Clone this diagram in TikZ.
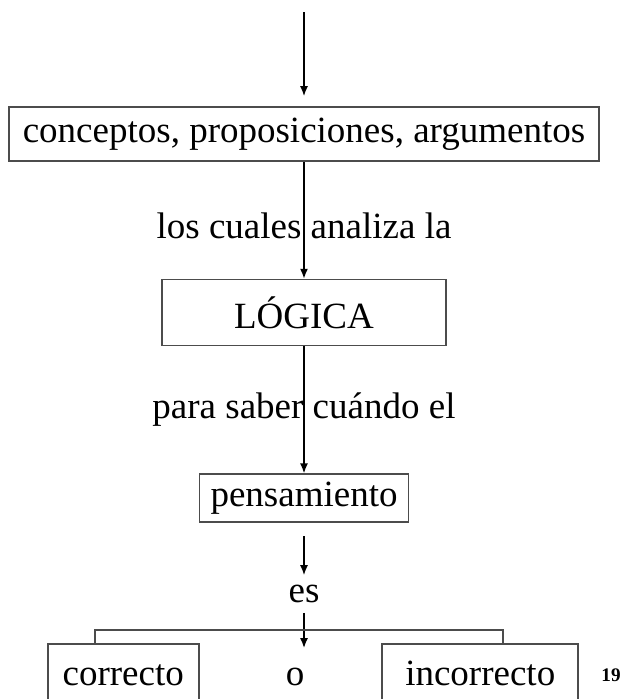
\documentclass[tikz,border=0pt]{standalone}
\usepackage{fontspec}
\setmainfont{Liberation Serif}
\usetikzlibrary{arrows.meta, positioning, calc}

\begin{document}
\begin{tikzpicture}[
  box/.style={draw=black!70, line width=0.8pt, inner sep=0pt, align=center, font=\fontsize{18.5}{22}\selectfont},
  txt/.style={inner sep=0pt, font=\fontsize{18.5}{22}\selectfont},
  outcome/.style={text height=12.5pt, text depth=0pt},
  arrow/.style={-{Latex[length=5pt, width=4pt]}, line width=0.8pt},
  ]
  \useasboundingbox (0,0) rectangle (309.5pt,-349.5pt);

  % Main chain
  \node[box, minimum width=295pt, minimum height=27pt] (conc) at (152pt,-67pt) {conceptos, proposiciones, argumentos};
  \coordinate[above=47pt of conc.north] (entry);
  \node[box, below=58.5pt of conc, minimum width=142pt, minimum height=33pt] (logica) {LÓGICA};
  \node[box, below=63.5pt of logica, minimum width=104.5pt, minimum height=24pt] (pens) {pensamiento};
  \node[txt, below=35.5pt of pens.south, anchor=center] (es) {es};

  % Outcomes
  \node[txt, outcome, below=39.5pt of es.center, anchor=center, xshift=-4.5pt] (o) {o};
  \node[box, outcome, left=42.9pt of o, minimum width=75.5pt, minimum height=29pt] (cor) {correcto};
  \node[box, outcome, right=38.4pt of o, minimum width=98pt, minimum height=29pt] (incor) {incorrecto};
  \node[right=11pt of incor, yshift=-1.25pt, inner sep=0pt, font=\fontsize{9.6}{11}\selectfont\bfseries] (page) {19};

  % Arrows
  \draw[arrow, shorten >=5pt] (entry) -- (conc);
  \draw[arrow] (conc) -- node[txt, pos=0.55] (cuales) {los cuales analiza la} (logica);
  \draw[arrow] (logica) -- node[txt, midway] (saber) {para saber cuándo el} (pens);
  \draw[arrow, shorten <=6.5pt, shorten >=4.75pt] (pens) -- (es);
  \draw[arrow, shorten <=4.75pt, shorten >=6pt] (es) -- (es |- o.north);

  % Bracket over the two outcomes
  \draw[line width=0.8pt, black!70] ([xshift=-14.25pt]cor.north) -- ++(0,6.5pt) -| ([xshift=11.5pt]incor.north);

\end{tikzpicture}
\end{document}
